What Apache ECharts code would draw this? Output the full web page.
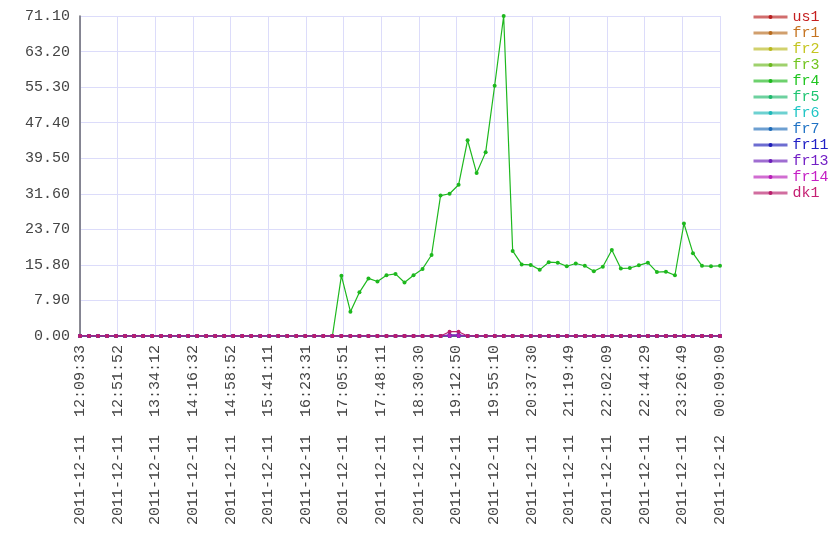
<!DOCTYPE html>
<html>
<head>
<meta charset="utf-8">
<script src="https://cdn.jsdelivr.net/npm/echarts@6/dist/echarts.min.js"></script>
<style>html,body{margin:0;padding:0;background:#fff}#c{width:840px;height:560px}</style>
</head>
<body>
<div id="c"></div>
<script>
var seriesNames = ['us1','fr1','fr2','fr3','fr4','fr5','fr6','fr7','fr11','fr13','fr14','dk1'];
var seriesHues = [0,30,60,90,120,150,180,210,240,270,300,330];
var xTickLabels = [
  '2011-12-11  12:09:33','2011-12-11  12:51:52','2011-12-11  13:34:12','2011-12-11  14:16:32',
  '2011-12-11  14:58:52','2011-12-11  15:41:11','2011-12-11  16:23:31','2011-12-11  17:05:51',
  '2011-12-11  17:48:11','2011-12-11  18:30:30','2011-12-11  19:12:50','2011-12-11  19:55:10',
  '2011-12-11  20:37:30','2011-12-11  21:19:49','2011-12-11  22:02:09','2011-12-11  22:44:29',
  '2011-12-11  23:26:49','2011-12-12  00:09:09'
];
var yTickLabels = ['0.00','7.90','15.80','23.70','31.60','39.50','47.40','55.30','63.20','71.10'];
var pointCount = 72;
var fr4Values = [
  0,0,0,0,0,0,0,0,0,0,0,0,0,0,0,0,0,0,0,0,0,0,0,0,0,0,0,0,0,
  13.4,5.4,9.7,12.8,12.1,13.5,13.8,11.9,13.5,14.9,18.0,31.2,31.6,33.6,43.5,36.2,40.8,55.6,71.1,
  18.9,15.9,15.8,14.7,16.4,16.3,15.5,16.1,15.6,14.4,15.4,19.1,15.0,15.1,15.7,16.3,14.2,14.3,13.5,
  25.0,18.4,15.6,15.5,15.6
];
var dk1Blip = {41: 0.95, 42: 0.95};
var fr13Blip = {41: 0.25, 42: 0.25};

var X_SCALE = 17; // 17 label intervals over 71 sample intervals
function buildSeries(name) {
  var out = [];
  for (var i = 0; i < pointCount; i++) {
    var v = 0;
    if (name === 'fr4') v = fr4Values[i];
    else if (name === 'dk1' && dk1Blip[i] !== undefined) v = dk1Blip[i];
    else if (name === 'fr13' && fr13Blip[i] !== undefined) v = fr13Blip[i];
    out.push([i * X_SCALE, v]);
  }
  return out;
}
function col(h, l) { return 'hsl(' + h + ',72%,' + l + '%)'; }

var FONT = 'Liberation Mono';
var chart = echarts.init(document.getElementById('c'), null, {renderer: 'canvas'});
var series = seriesNames.map(function (n, k) {
  var c = col(seriesHues[k], 42);
  return {
    name: n, type: 'line', data: buildSeries(n),
    symbol: 'circle', symbolSize: 4, showSymbol: true,
    lineStyle: {width: 1.2, color: c}, itemStyle: {color: c},
    emphasis: {disabled: true}, animation: false, z: 2 + k
  };
});
var xMax = (pointCount - 1) * X_SCALE;
chart.setOption({
  animation: false,
  backgroundColor: '#fff',
  grid: {left: 80, right: 120, top: 16, bottom: 224, outerBoundsMode: 'none', containLabel: false},
  legend: {
    orient: 'vertical', left: 747, top: 4,
    itemWidth: 34, itemHeight: 5, itemGap: 0,
    lineStyle: {width: 3, opacity: 0.65},
    data: seriesNames.map(function (n, k) {
      return {name: n, textStyle: {color: col(seriesHues[k], 45), fontFamily: FONT, fontSize: 15, lineHeight: 16, height: 16}};
    })
  },
  xAxis: {
    type: 'value', min: 0, max: xMax, interval: (pointCount - 1),
    axisLine: {show: true, lineStyle: {color: '#6e6e78', width: 1}},
    axisTick: {show: false},
    splitLine: {show: true, lineStyle: {color: '#dcdcfa', width: 1}},
    axisLabel: {
      rotate: 90, margin: 9, color: '#444', fontFamily: FONT, fontSize: 15,
      showMinLabel: true, showMaxLabel: true, hideOverlap: false,
      formatter: function (v) { return xTickLabels[Math.round(v / (pointCount - 1))] || ''; }
    }
  },
  yAxis: {
    type: 'value', min: 0, max: 71.1, interval: 7.9,
    axisLine: {show: true, lineStyle: {color: '#6e6e78', width: 1.6}},
    axisTick: {show: false},
    splitLine: {show: true, lineStyle: {color: '#dcdcfa', width: 1}},
    axisLabel: {
      margin: 10, color: '#444', fontFamily: FONT, fontSize: 15,
      showMinLabel: true, showMaxLabel: true,
      formatter: function (v) { return yTickLabels[Math.round(v / 7.9)] || ''; }
    }
  },
  series: series
});
</script>
</body>
</html>
